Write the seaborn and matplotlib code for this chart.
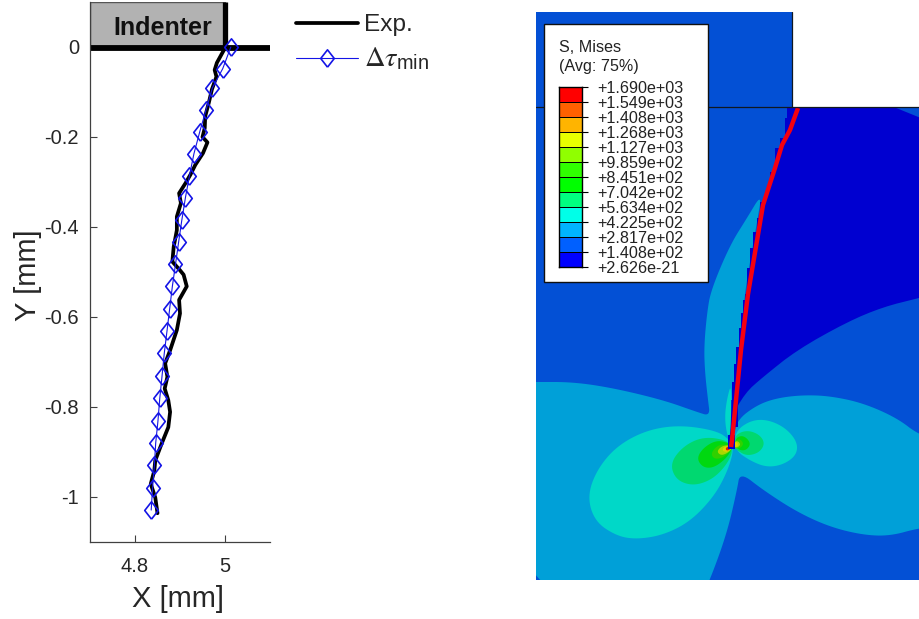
import numpy as np
import matplotlib
matplotlib.use("Agg")
import matplotlib.pyplot as plt
import seaborn as sns
from matplotlib.colors import ListedColormap
from matplotlib.patches import Rectangle

# measured crack profile [mm]
exp_x = [4.9985, 4.982, 4.977, 4.981, 4.971, 4.964, 4.956, 4.955, 4.950, 4.961, 4.951, 4.934,
         4.923, 4.912, 4.898, 4.902, 4.893, 4.893, 4.886, 4.883, 4.899, 4.908, 4.915, 4.898,
         4.900, 4.893, 4.878, 4.867, 4.872, 4.866, 4.874, 4.878, 4.874, 4.859, 4.845, 4.843,
         4.835, 4.845, 4.850]
exp_y = [-0.005, -0.035, -0.051, -0.066, -0.094, -0.124, -0.154, -0.180, -0.200, -0.212, -0.236,
         -0.262, -0.284, -0.303, -0.325, -0.347, -0.377, -0.407, -0.444, -0.477, -0.495, -0.506,
         -0.532, -0.562, -0.592, -0.629, -0.674, -0.703, -0.733, -0.759, -0.785, -0.811, -0.845,
         -0.882, -0.919, -0.941, -0.971, -1.001, -1.036]

# simulated path
sim_x = [5.013, 4.995, 4.972, 4.958, 4.944, 4.931, 4.921, 4.912, 4.904, 4.897, 4.890, 4.883,
         4.877, 4.871, 4.865, 4.860, 4.855, 4.851, 4.846, 4.843, 4.839, 4.836]
sim_y = [0, -0.048, -0.091, -0.139, -0.188, -0.237, -0.286, -0.335, -0.385, -0.433, -0.483,
         -0.532, -0.582, -0.632, -0.681, -0.732, -0.781, -0.831, -0.880, -0.930, -0.981, -1.029]

x_ticks = [4.8, 5]
x_tick_labels = ["4.8", "5"]
y_ticks = [-1, -0.8, -0.6, -0.4, -0.2, 0]
y_tick_labels = ["-1", "-0.8", "-0.6", "-0.4", "-0.2", "0"]

# contour legend: 13 edge labels, 12 bands
level_labels = ["+1.690e+03", "+1.549e+03", "+1.408e+03", "+1.268e+03", "+1.127e+03", "+9.859e+02",
                "+8.451e+02", "+7.042e+02", "+5.634e+02", "+4.225e+02", "+2.817e+02", "+1.408e+02",
                "+2.626e-21"]
band_colors = ["#ff0000", "#ff6000", "#ffb400", "#e8ff00", "#90ff00", "#30ff00", "#00ff00",
               "#00ff80", "#00ffe8", "#00b4ff", "#0060ff", "#0000ff"]
band_index = [[0], [1], [2], [3], [4], [5], [6], [7], [8], [9], [10], [11]]

# contour outlines, image pixels
light_x = [762, 757, 750, 745, 738, 733, 737, 757, 777, 803, 830, 863, 897, 919, 950, 950, 919, 890,
           863, 830, 797, 763, 740, 737, 727, 710, 700, 510, 510, 536, 573, 613, 663, 697, 710, 708,
           705, 704, 707, 711, 730, 747]
light_y = [193, 222, 262, 292, 360, 440, 420, 405, 398, 395, 396, 403, 418, 435, 445, 525, 528, 536,
           535, 527, 512, 490, 472, 490, 533, 580, 600, 600, 382, 382, 382, 388, 400, 412, 416, 400,
           373, 347, 313, 290, 245, 218]
deep_x = [798, 790, 782, 763, 748, 741, 733, 730, 745, 763, 797, 847, 883, 919, 950, 950, 800]
deep_y = [108, 130, 145, 205, 294, 350, 400, 420, 393, 377, 350, 322, 307, 298, 290, 107, 107]
crack_x = [798, 790, 782, 775, 763, 748, 741, 735, 732, 731]
crack_y = [108, 130, 145, 168, 205, 294, 350, 410, 440, 447]
step_y = [107, 118, 138, 148, 172, 192, 202, 218, 232, 248, 268, 294, 300, 313, 328, 347, 364, 382, 400, 422, 449]
step_x = [787, 785, 780, 775, 770, 765, 760, 757, 753, 750, 747, 745, 743, 741, 739, 736, 734, 732, 730, 728, 728]

# lobes near the crack tip, crop coordinates (x0=530, y0=290, 3x)
lobes = [
    ("#00d8c8", [600, 560, 450, 350, 260, 200, 172, 195, 260, 320, 400, 480, 550, 590, 612],
                [450, 422, 405, 420, 468, 540, 620, 695, 738, 748, 735, 695, 622, 550, 480]),
    ("#00d8c8", [615, 660, 710, 765, 802, 800, 760, 710, 660, 615],
                [425, 392, 388, 412, 455, 495, 524, 532, 512, 480]),
    ("#00d8c8", [605, 590, 584, 592, 602], [275, 330, 385, 440, 440]),
    ("#00d870", [590, 520, 460, 420, 438, 490, 548, 592, 610],
                [450, 440, 468, 520, 570, 588, 568, 522, 478]),
    ("#00d870", [615, 650, 688, 705, 688, 650, 620, 612],
                [435, 420, 433, 460, 488, 498, 480, 470]),
    ("#00d810", [600, 560, 520, 500, 518, 550, 587, 608],
                [460, 450, 473, 505, 532, 534, 507, 475]),
    ("#00d810", [615, 640, 664, 647, 620], [445, 435, 460, 483, 478]),
    ("#30d000", [600, 565, 542, 553, 580, 605], [465, 463, 490, 508, 503, 478]),
    ("#30d000", [615, 630, 642, 628, 612], [452, 446, 462, 477, 472]),
    ("#a8d800", [600, 575, 560, 574, 596, 606], [465, 468, 485, 497, 487, 475]),
    ("#a8d800", [613, 625, 632, 620, 612], [455, 453, 465, 474, 470]),
    ("#e0d000", [600, 583, 576, 590, 605], [468, 470, 482, 487, 475]),
    ("#e0d000", [615, 623, 624, 613], [456, 458, 469, 472]),
    ("#e02000", [598, 586, 590, 603], [468, 474, 483, 477]),
]

W, H = 919, 619
sns.set_theme(style="ticks")
plt.rcParams["font.family"] = ["Liberation Sans", "DejaVu Sans"]
plt.rcParams["mathtext.fontset"] = "stix"


def box(x0, y0, x1, y1):
    # pixel box -> figure fractions
    return [x0 / W, 1 - y1 / H, (x1 - x0) / W, (y1 - y0) / H]


def smooth(x, y, n=3):
    # corner cutting for the contour outlines
    p = np.column_stack([x, y]).astype(float)
    for _ in range(n):
        q = np.roll(p, -1, axis=0)
        p = np.column_stack([0.75 * p + 0.25 * q, 0.25 * p + 0.75 * q]).reshape(-1, 2)
    return p[:, 0], p[:, 1]


fig = plt.figure(figsize=(9.19, 6.19), dpi=100)

# left: crack path
ax = fig.add_axes(box(90, 2, 270, 542))
ax.add_patch(Rectangle((4.7, 0), 0.3, 0.1, facecolor="#b2b2b2", edgecolor="#555555", lw=1, zorder=1))
ax.plot([4.7, 5.1], [-0.002, -0.002], color="black", lw=4.2, zorder=2, solid_capstyle="butt")
ax.plot([4.999, 4.999], [0, 0.1], color="black", lw=3.8, zorder=2, solid_capstyle="butt")
ax.text(4.861, 0.042, "Indenter", fontsize=18, fontweight="bold", ha="center", va="center", color="#101010", zorder=3)

sns.lineplot(x=exp_x, y=exp_y, sort=False, estimator=None, color="black", lw=2.7, label="Exp.", ax=ax, zorder=4)
diamond = [(0, -1), (0.78, 0), (0, 1), (-0.78, 0), (0, -1)]
sns.lineplot(x=sim_x, y=sim_y, sort=False, estimator=None, color="#1414e6", lw=0.8, marker=diamond,
             markersize=12.5, markerfacecolor="none", markeredgecolor="#1414e6", markeredgewidth=1.2,
             label=r"$\Delta\tau_{\mathregular{min}}$", ax=ax, zorder=5, clip_on=False)

ax.set_xlim(4.7, 5.1)
ax.set_ylim(-1.1, 0.1)
ax.set_xticks(x_ticks, x_tick_labels)
ax.set_yticks(y_ticks, y_tick_labels)
ax.tick_params(direction="in", length=5, width=0.8, color="#404040", labelcolor="#262626", labelsize=14.5, pad=8)
ax.tick_params(axis="x", pad=11)
ax.set_xlabel("X [mm]", fontsize=21, color="#262626", labelpad=6.5, x=0.49)
ax.set_ylabel("Y [mm]", fontsize=21, color="#262626", labelpad=1.5, y=0.495)
sns.despine(ax=ax)
for s in ["left", "bottom"]:
    ax.spines[s].set_color("#404040")
    ax.spines[s].set_linewidth(0.9)
leg = ax.legend(loc="upper left", bbox_to_anchor=(296 / W, 1 - 14 / H), bbox_transform=fig.transFigure,
                frameon=False, fontsize=17.6, handlelength=2.54, handletextpad=0.25, labelspacing=0.4,
                borderpad=0, borderaxespad=0)
leg.get_texts()[1].set_fontsize(20.5)

# right: FE contour
fe = fig.add_axes(box(536, 12, 919, 580))
fe.set_xlim(536, 919)
fe.set_ylim(580, 12)
fe.axis("off")
blue = "#0350d5"
fe.fill([536, 792, 792, 536], [12, 12, 107, 107], color=blue, lw=0)
fe.fill([536, 919, 919, 536], [107, 107, 580, 580], color=blue, lw=0)

fe.fill(*smooth(light_x, light_y), color="#00a0d8", lw=0)
fe.fill(*smooth(deep_x, deep_y, 2), color="#0000d0", lw=0)
# stepped element edge along the crack
stair_right = np.interp(step_y, crack_y, crack_x) + 1
stair_x = np.column_stack([step_x, step_x]).ravel()[:-1]
stair_y = np.column_stack([step_y, np.r_[step_y[1:], step_y[-1]]]).ravel()[:-1]
fe.fill(np.r_[stair_x, stair_right[::-1]], np.r_[stair_y, np.array(step_y)[::-1]], color="#0000d0", lw=0)
fe.fill([730, 738, 738, 730], [405, 405, 427, 427], color="#0000d0", lw=0)
for col, lx, ly in lobes:
    sx, sy = smooth(lx, ly)
    fe.fill(530 + sx / 3, 290 + sy / 3, color=col, lw=0)
fe.fill([728, 735, 735, 728], [435, 435, 449, 449], color="#0000d0", lw=0)
fe.plot(crack_x, crack_y, color="#f5000f", lw=3.2, solid_capstyle="butt")

fe.plot([536, 919], [107, 107], color="#101820", lw=0.9)
fe.plot([792, 792], [12, 107], color="#101820", lw=0.9)

fe.add_patch(Rectangle((544, 24), 164, 258, facecolor="white", edgecolor="#101010", lw=1, zorder=5))
fe.text(559, 48, "S, Mises", fontsize=11.6, va="center", color="#222222", zorder=6)
fe.text(559, 67, "(Avg: 75%)", fontsize=11.6, va="center", color="#222222", zorder=6)

cb = fig.add_axes(box(559, 87, 582, 267), zorder=7)
sns.heatmap(band_index, cmap=ListedColormap(band_colors), vmin=-0.5, vmax=11.5, cbar=False,
            linewidths=0.7, linecolor="black", xticklabels=False, ax=cb)
for s in cb.spines.values():
    s.set_visible(True)
    s.set_color("black")
    s.set_linewidth(1)
cb.yaxis.tick_right()
cb.set_yticks(range(13), level_labels, rotation=0)
cb.tick_params(axis="y", length=4.3, width=0.8, color="black", pad=7, labelsize=11.6, labelcolor="#222222")

fig.savefig("out.png", dpi=100)
